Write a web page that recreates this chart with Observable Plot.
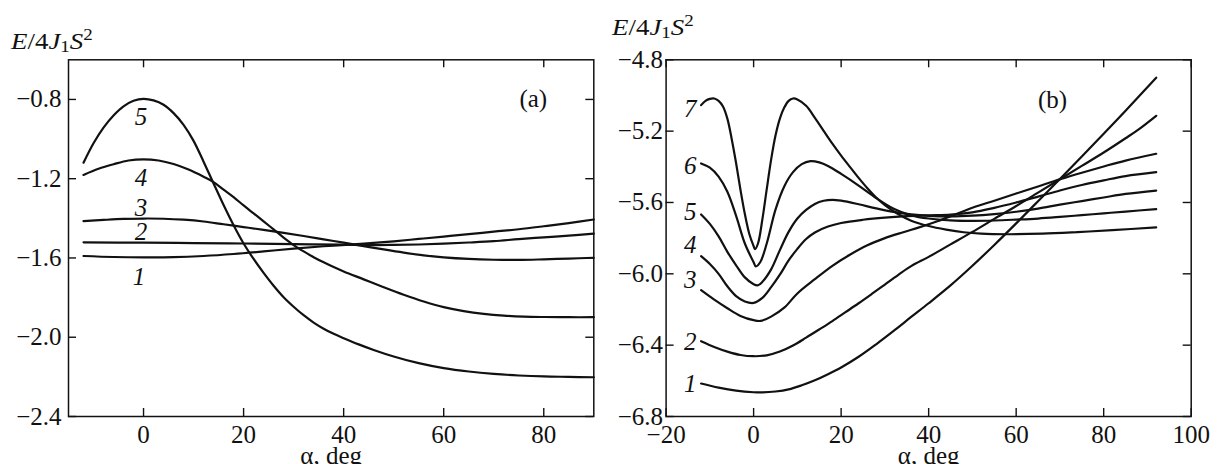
<!DOCTYPE html>
<html><head><meta charset="utf-8">
<script src="https://cdn.jsdelivr.net/npm/d3@7"></script>
<script src="https://cdn.jsdelivr.net/npm/@observablehq/plot@0.6"></script>
<style>
html,body{margin:0;padding:0;background:#fff;}
#wrap{position:relative;width:1218px;height:464px;overflow:hidden;}
#wrap svg{position:absolute;top:0;}
</style></head><body><div id="wrap"></div>
<script>
// ---------- Panel (a) ----------
const a1 = [[-12,-1.590],[-6,-1.595],[0,-1.597],[6,-1.596],[12,-1.590],[18,-1.580],[24,-1.567],[30,-1.553],[36,-1.541],[42,-1.531],[46,-1.524],[50,-1.516],[55,-1.504],[60,-1.492],[65,-1.480],[70,-1.467],[75,-1.455],[80,-1.440],[85,-1.424],[90,-1.406]];
const a2 = [[-12,-1.521],[0,-1.523],[10,-1.525],[20,-1.527],[30,-1.530],[40,-1.533],[45,-1.535],[50,-1.534],[55,-1.532],[60,-1.528],[65,-1.522],[70,-1.515],[75,-1.505],[80,-1.496],[85,-1.487],[90,-1.477]];
const a3 = [[-12,-1.414],[-8,-1.408],[-4,-1.403],[0,-1.401],[4,-1.402],[8,-1.407],[12,-1.416],[16,-1.430],[20,-1.444],[24,-1.458],[28,-1.473],[32,-1.489],[36,-1.506],[40,-1.523],[44,-1.540],[48,-1.557],[52,-1.573],[56,-1.587],[60,-1.597],[65,-1.605],[70,-1.609],[75,-1.610],[80,-1.607],[85,-1.603],[90,-1.599]];
const a4 = [[-12,-1.181],[-9,-1.150],[-6,-1.127],[-3,-1.108],[0,-1.102],[3,-1.108],[6,-1.126],[9,-1.154],[12,-1.190],[14,-1.217],[16,-1.255],[18,-1.293],[20,-1.335],[22,-1.375],[24,-1.415],[26,-1.456],[28,-1.497],[30,-1.535],[32,-1.567],[34,-1.596],[36,-1.622],[38,-1.646],[40,-1.668],[44,-1.708],[48,-1.748],[52,-1.786],[56,-1.820],[60,-1.848],[64,-1.868],[68,-1.882],[72,-1.891],[76,-1.896],[80,-1.898],[85,-1.899],[90,-1.899]];
const a5 = [[-12,-1.119],[-10,-1.021],[-8,-0.942],[-6,-0.881],[-4,-0.835],[-2,-0.807],[0,-0.797],[2,-0.805],[4,-0.827],[6,-0.869],[8,-0.928],[10,-1.009],[12,-1.114],[14,-1.224],[16,-1.333],[18,-1.435],[20,-1.527],[22,-1.605],[24,-1.675],[26,-1.740],[28,-1.798],[30,-1.846],[32,-1.889],[34,-1.926],[36,-1.957],[38,-1.983],[40,-2.005],[43,-2.036],[46,-2.064],[50,-2.097],[55,-2.131],[60,-2.156],[65,-2.173],[70,-2.185],[75,-2.193],[80,-2.198],[85,-2.200],[90,-2.202]];
const curveNamesA = ["1","2","3","4","5"];
const labelXA = [-0.9,-0.5,-0.5,-0.5,-0.5];
const labelYA = [-1.696,-1.468,-1.350,-1.198,-0.891];
const xTicksA = [0,20,40,60,80];
const yTicksA = [-2.4,-2.0,-1.6,-1.2,-0.8];

// ---------- Panel (b) ----------
const b1 = [[-12,-6.615],[-8,-6.638],[-4,-6.655],[0,-6.664],[2,-6.665],[5,-6.660],[8,-6.648],[11,-6.625],[14,-6.597],[17,-6.563],[20,-6.525],[24,-6.465],[28,-6.395],[32,-6.320],[36,-6.242],[40,-6.165],[45,-6.065],[50,-5.955],[55,-5.838],[60,-5.717],[65,-5.593],[70,-5.468],[75,-5.342],[80,-5.215],[85,-5.086],[92,-4.900]];
const b2 = [[-12,-6.378],[-9,-6.410],[-6,-6.436],[-3,-6.455],[0,-6.462],[3,-6.457],[6,-6.436],[9,-6.402],[12,-6.358],[15,-6.312],[18,-6.265],[21,-6.215],[24,-6.165],[27,-6.113],[30,-6.060],[33,-6.007],[36,-5.957],[40,-5.905],[45,-5.835],[50,-5.765],[55,-5.692],[60,-5.620],[65,-5.545],[70,-5.470],[75,-5.395],[80,-5.320],[85,-5.240],[88,-5.190],[92,-5.114]];
const b3 = [[-12,-6.092],[-9,-6.145],[-6,-6.193],[-3,-6.236],[0,-6.260],[1.6,-6.264],[4,-6.240],[7,-6.190],[10,-6.110],[14,-6.030],[18,-5.955],[22,-5.893],[26,-5.840],[30,-5.800],[34,-5.768],[38,-5.738],[42,-5.705],[46,-5.668],[50,-5.630],[55,-5.590],[60,-5.550],[65,-5.510],[70,-5.470],[75,-5.433],[80,-5.398],[85,-5.365],[92,-5.327]];
const b4 = [[-12,-5.901],[-10,-5.945],[-8,-6.000],[-6,-6.070],[-4,-6.125],[-2,-6.155],[0,-6.163],[2,-6.135],[4,-6.075],[6,-6.005],[8,-5.925],[10,-5.860],[12,-5.805],[14,-5.768],[17,-5.735],[20,-5.715],[25,-5.697],[30,-5.685],[35,-5.677],[40,-5.672],[45,-5.668],[50,-5.655],[55,-5.630],[60,-5.600],[65,-5.567],[70,-5.533],[75,-5.502],[80,-5.476],[85,-5.452],[92,-5.430]];
const b5 = [[-12,-5.667],[-10,-5.720],[-8,-5.790],[-6,-5.877],[-4,-5.952],[-2,-6.020],[0,-6.058],[1,-6.064],[2,-6.045],[4,-5.975],[6,-5.867],[8,-5.765],[10,-5.690],[12,-5.642],[14,-5.608],[16,-5.590],[18,-5.585],[20,-5.590],[24,-5.610],[28,-5.633],[32,-5.653],[36,-5.667],[40,-5.675],[45,-5.678],[50,-5.674],[55,-5.665],[60,-5.652],[65,-5.634],[70,-5.612],[75,-5.592],[80,-5.572],[85,-5.552],[92,-5.533]];
const b6 = [[-12,-5.381],[-10,-5.405],[-8,-5.455],[-6,-5.540],[-4,-5.675],[-2,-5.830],[0,-5.935],[0.5,-5.958],[1.5,-5.935],[3,-5.830],[5,-5.640],[7,-5.510],[9,-5.430],[11,-5.385],[13,-5.368],[15,-5.375],[17,-5.395],[20,-5.440],[24,-5.505],[28,-5.575],[32,-5.635],[36,-5.672],[40,-5.690],[45,-5.700],[50,-5.703],[55,-5.701],[60,-5.696],[65,-5.690],[70,-5.681],[75,-5.671],[80,-5.661],[85,-5.651],[92,-5.637]];
const b7 = [[-12,-5.054],[-11,-5.030],[-10,-5.019],[-9,-5.017],[-8,-5.030],[-7,-5.062],[-6,-5.130],[-5,-5.245],[-4,-5.380],[-3,-5.530],[-2,-5.665],[-1,-5.775],[0,-5.845],[0.3,-5.862],[1,-5.830],[2,-5.695],[3,-5.525],[4,-5.360],[5,-5.225],[6,-5.130],[7,-5.068],[8,-5.030],[9,-5.017],[10,-5.022],[12,-5.058],[14,-5.125],[16,-5.198],[18,-5.270],[20,-5.337],[22,-5.400],[24,-5.462],[26,-5.520],[28,-5.572],[30,-5.615],[33,-5.665],[36,-5.702],[40,-5.732],[44,-5.752],[48,-5.767],[52,-5.775],[58,-5.778],[66,-5.775],[74,-5.766],[82,-5.755],[92,-5.740]];
const curveNamesB = ["1","2","3","4","5","6","7"];
const labelXB = [-14.5,-14.5,-14.5,-14.5,-14.5,-14.5,-14.5];
const labelYB = [-6.617,-6.383,-6.032,-5.841,-5.654,-5.393,-5.075];
const xTicksB = [-20,0,20,40,60,80,100];
const yTicksB = [-6.8,-6.4,-6.0,-5.6,-5.2,-4.8];

const xTitle = "α, deg";

const INK = "#111";
const FONT = "'Liberation Serif', 'Times New Roman', serif";
const STRETCH = 1.12;
const minus = s => s.replace("-", "\u2212");

function makePanel(o) {
  const H = 464, mt = 59.3, mb = 48;
  const pw = o.width - o.marginLeft - o.marginRight, ph = H - mt - mb, tk = 8;
  const rows = o.curves.flatMap((c, i) => c.map(([x, y]) => ({x, y, k: o.names[i]})));
  const labs = o.names.map((t, i) => ({t, x: o.labelX[i], y: o.labelY[i]}));
  return Plot.plot({
    width: o.width, height: H,
    marginLeft: o.marginLeft, marginRight: o.marginRight, marginTop: mt, marginBottom: mb,
    style: {fontFamily: FONT, fontSize: "25px", background: "transparent", color: INK, overflow: "visible"},
    x: {domain: o.xDomain}, y: {domain: o.yDomain},
    marks: [
      Plot.line(rows, {x: "x", y: "y", z: "k", stroke: INK, strokeWidth: 2.2, curve: "catmull-rom"}),
      Plot.ruleX(o.xTicks, {x: d => d, insetTop: ph - tk, stroke: INK, strokeWidth: 1.4}),
      Plot.ruleX(o.xTicks, {x: d => d, insetBottom: ph - tk, stroke: INK, strokeWidth: 1.4}),
      Plot.ruleY(o.yTicks, {y: d => d, insetRight: pw - tk, stroke: INK, strokeWidth: 1.4}),
      Plot.ruleY(o.yTicks, {y: d => d, insetLeft: pw - tk, stroke: INK, strokeWidth: 1.4}),
      Plot.frame({stroke: INK, strokeWidth: 1.5}),
      Plot.axisX(o.xTicks, {tickSize: 0, tickPadding: 9, fontSize: 25, label: null, tickFormat: d => minus(String(d))}),
      Plot.axisY(o.yTicks, {tickSize: 0, tickPadding: o.yPad, fontSize: 25, label: null, tickFormat: d => minus(d.toFixed(1))}),
      Plot.text(labs, {x: "x", y: "y", text: "t", fontStyle: "italic", fontSize: 25, fill: INK}),
      Plot.text([o.tag], {x: o.tagX, y: o.tagY, text: d => d, fontSize: 25, fill: INK}),
      Plot.text([xTitle], {frameAnchor: "bottom", lineAnchor: "middle", dy: 39, text: d => d, fontSize: 25, fill: INK})
    ]
  });
}

function yTitle(svg, x, y) {
  const t = d3.select(svg).append("text")
    .attr("x", x).attr("y", y).attr("text-anchor", "start")
    .attr("font-family", FONT).attr("font-size", 24).attr("fill", INK);
  t.append("tspan").attr("font-style", "italic").text("E");
  t.append("tspan").text("/4");
  t.append("tspan").attr("font-style", "italic").text("J");
  t.append("tspan").attr("font-size", 17).attr("dy", 3).text("1");
  t.append("tspan").attr("font-style", "italic").attr("dy", -3).text("S");
  t.append("tspan").attr("font-size", 17).attr("dy", -9).text("2");
}

// widen the glyphs a little, like the wide serif type of the original
function stretchTexts(svg) {
  d3.select(svg).selectAll("text").each(function () {
    if (this.getAttribute("transform")) return;
    const b = this.getBBox();
    const anchor = getComputedStyle(this).textAnchor;
    const cx = anchor === "end" ? b.x + b.width : anchor === "start" ? b.x : b.x + b.width / 2;
    this.setAttribute("transform", `translate(${cx},0) scale(${STRETCH},1) translate(${-cx},0)`);
  });
}

const wrap = document.getElementById("wrap");

const pa = makePanel({
  curves: [a1, a2, a3, a4, a5], names: curveNamesA, labelX: labelXA, labelY: labelYA,
  xDomain: [-15, 90], yDomain: [-2.4, -0.6], xTicks: xTicksA, yTicks: yTicksA,
  width: 608, marginLeft: 68, marginRight: 14.7, yPad: 7,
  tag: "(a)", tagX: 77.9, tagY: -0.8
});
pa.style.left = "0px";
yTitle(pa, 11, 49);
wrap.appendChild(pa);
stretchTexts(pa);

const pb = makePanel({
  curves: [b1, b2, b3, b4, b5, b6, b7], names: curveNamesB, labelX: labelXB, labelY: labelYB,
  xDomain: [-20, 100], yDomain: [-6.8, -4.8], xTicks: xTicksB, yTicks: yTicksB,
  width: 610, marginLeft: 57.6, marginRight: 27.3, yPad: 3,
  tag: "(b)", tagX: 68.3, tagY: -5.028
});
pb.style.left = "608px";
yTitle(pb, 4, 35);
wrap.appendChild(pb);
stretchTexts(pb);
</script>
</body></html>
